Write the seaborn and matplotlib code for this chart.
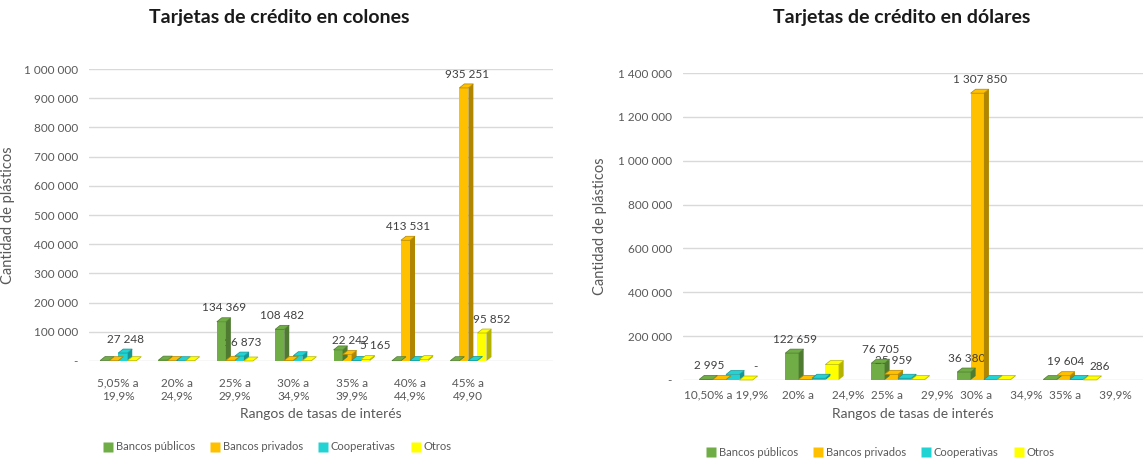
import pandas as pd
import matplotlib
matplotlib.use("Agg")
import matplotlib.pyplot as plt
import matplotlib.transforms as mtransforms
from matplotlib.patches import Polygon
from matplotlib.lines import Line2D
import seaborn as sns

series = ['Bancos públicos', 'Bancos privados', 'Cooperativas', 'Otros']
colores = ['#70AD47', '#FFC000', '#22D3D3', '#FFFF00']
sombras = ['#4E7A31', '#B08500', '#179494', '#B3B300']

# colones
rangos_c = ['5,05% a\n19,9%', '20% a\n24,9%', '25% a\n29,9%', '30% a\n34,9%',
            '35% a\n39,9%', '40% a\n44,9%', '45% a\n49,90']
publicos_c = [1500, 3000, 134369, 108482, 38000, 1000, 1000]
privados_c = [1000, 1500, 2500, 2000, 22242, 413531, 935251]
coop_c = [27248, 1000, 16873, 18000, 2000, 2000, 2000]
otros_c = [1000, 1000, 0, 1000, 5165, 5000, 95852]
etiquetas_c = {'Bancos públicos': [2, 3], 'Bancos privados': [4, 5, 6],
               'Cooperativas': [0, 2], 'Otros': [4, 6]}

# dólares
rangos_d = ['10,50% a 19,9%', '20% a      24,9%', '25% a      29,9%',
            '30% a      34,9%', '35% a      39,9%']
publicos_d = [2995, 122659, 76705, 36380, 2000]
privados_d = [2000, 3000, 25959, 1307850, 19604]
coop_d = [25000, 8000, 8000, 2000, 3000]
otros_d = [0, 70000, 2000, 2000, 286]
etiquetas_d = {'Bancos públicos': [0, 1, 2, 3], 'Bancos privados': [2, 3, 4],
               'Cooperativas': [], 'Otros': [0, 4]}


def largo(rangos, vals):
    filas = []
    for s, v in zip(series, vals):
        for r, x in zip(rangos, v):
            filas.append({'rango': r, 'serie': s, 'valor': x})
    return pd.DataFrame(filas)


def fmt(v):
    if v == 0:
        return '-'
    return f'{int(v):,}'.replace(',', ' ')


sns.set_style('white')
plt.rcParams['font.family'] = ['Lato', 'DejaVu Sans']
gris = '#595959'

fig = plt.figure(figsize=(11.43, 4.62), dpi=100)
ax1 = fig.add_axes([89 / 1143, 1 - 361 / 462, 464 / 1143, 292 / 462])
ax2 = fig.add_axes([683 / 1143, 1 - 380 / 462, 460 / 1143, 307 / 462])

configs = [
    (ax1, rangos_c, [publicos_c, privados_c, coop_c, otros_c], etiquetas_c,
     1000000, 100000, 7.45, 'Tarjetas de crédito en colones', 279, 12, 15),
    (ax2, rangos_d, [publicos_d, privados_d, coop_d, otros_d], etiquetas_d,
     1400000, 200000, 4.85, 'Tarjetas de crédito en dólares', 902, 7, 607),
]

for ax, rangos, vals, etiq, ymax, paso, xmax, titulo, tx, pad, yl in configs:
    df = largo(rangos, vals)
    sns.barplot(data=df, x='rango', y='valor', hue='serie', palette=colores,
                width=0.62, ax=ax, legend=False, saturation=1, linewidth=0)
    ax.set_ylim(0, ymax)
    ax.set_xlim(-0.5, xmax)
    ticks = list(range(0, ymax + 1, paso))
    ax.set_yticks(ticks)
    ax.set_yticklabels([fmt(t) for t in ticks], color=gris, fontsize=8.5)
    ax.tick_params(axis='x', colors=gris, labelsize=8.5, length=0, pad=pad)
    ax.tick_params(axis='y', length=0, pad=8)
    ax.yaxis.grid(True, color='#D9D9D9', linewidth=1)
    ax.set_axisbelow(True)
    sns.despine(ax=ax, left=True, bottom=True)
    ax.set_xlabel('Rangos de tasas de interés', color=gris, fontsize=10, labelpad=5)
    ax.set_ylabel('Cantidad de plásticos', color=gris, fontsize=10.5)
    pos = ax.get_position()
    ax.yaxis.set_label_coords((yl / 1143 - pos.x0) / pos.width, 0.5)
    fig.text(tx / 1143, 1 - 18 / 462, titulo, ha='center', va='center',
             fontsize=14, fontweight='bold', color='#1a1a1a')

# desplazar un poco las etiquetas de rango del gráfico en dólares
for k, lab in enumerate(ax2.get_xticklabels()):
    if k > 0:
        lab.set_transform(lab.get_transform() +
                          mtransforms.ScaledTranslation((8 + 3 * k) / 100, 0,
                                                        fig.dpi_scale_trans))

fig.canvas.draw()

# caras laterales y superiores (efecto 3D) a partir de las barras de seaborn
dx, dy = 5, 4
for ax, rangos, vals, etiq, ymax, paso, xmax, titulo, tx, pad, yl in configs:
    n = len(rangos)
    for i, s in enumerate(series):
        for j in range(n):
            p = ax.patches[i * n + j]
            x0, y0 = p.get_x(), p.get_y()
            x1, y1 = x0 + p.get_width(), y0 + p.get_height()
            (X0, Y0) = ax.transData.transform((x0, y0))
            (X1, Y1) = ax.transData.transform((x1, y1))
            lado = Polygon([(X1, Y0), (X1 + dx, Y0 + dy), (X1 + dx, Y1 + dy), (X1, Y1)],
                           closed=True, transform=None, facecolor=sombras[i],
                           edgecolor='none', zorder=3)
            tapa = Polygon([(X0, Y1), (X0 + dx, Y1 + dy), (X1 + dx, Y1 + dy), (X1, Y1)],
                           closed=True, transform=None, facecolor=colores[i],
                           edgecolor=sombras[i], linewidth=0.5, zorder=3)
            fig.add_artist(lado)
            fig.add_artist(tapa)
            if j in etiq[s]:
                v = vals[i][j]
                ax.annotate(fmt(v), ((x0 + x1) / 2, y1),
                            xytext=(7 if s == 'Otros' else 2, 6),
                            textcoords='offset points', ha='center', va='bottom',
                            fontsize=8.5, color='#404040', zorder=5)

# leyendas
for cx, cy in [(277 / 1143, 1 - 447 / 462), (880 / 1143, 1 - 452 / 462)]:
    h = [Line2D([0], [0], marker='s', color='none', markerfacecolor=c,
                markeredgecolor='none', markersize=7) for c in colores]
    fig.legend(h, series, loc='center', bbox_to_anchor=(cx, cy), ncol=4,
               frameon=False, fontsize=8, handletextpad=0.2, columnspacing=1.3,
               handlelength=1.0, labelcolor=gris)

fig.savefig('out.png', dpi=100)
